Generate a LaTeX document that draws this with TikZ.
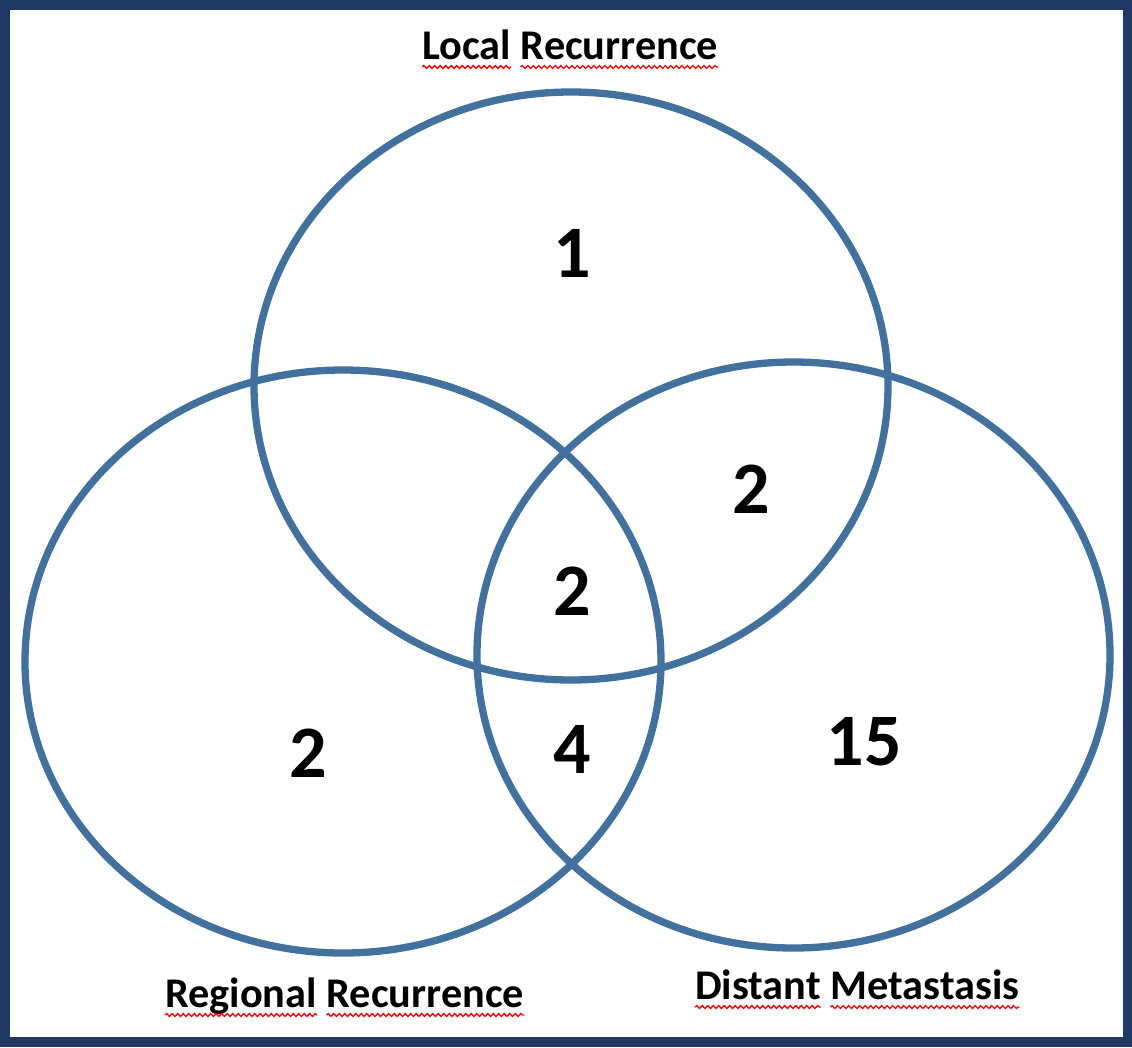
\documentclass[tikz,border=0pt]{standalone}
\usepackage{fontspec}
\setmainfont{Carlito}
\usetikzlibrary{decorations.pathmorphing}
\definecolor{frameblue}{HTML}{1F3864}
\definecolor{vennblue}{HTML}{41719C}
\begin{document}
\begin{tikzpicture}[x=1pt,y=-1pt,
  venn/.style={draw=vennblue,line width=7.3pt},
  lbl/.style={font=\fontsize{42.3}{46}\selectfont\bfseries,inner sep=0pt,anchor=base west},
  num/.style={font=\fontsize{74}{78}\selectfont\bfseries,inner sep=0pt,anchor=base},
  wavy/.style={draw=red,line width=1.3pt,decorate,decoration={snake,segment length=5.5pt,amplitude=1.4pt}}]
\useasboundingbox (0,0) rectangle (1132,1047);
% frame
\fill[frameblue] (0,0) rectangle (1132,1047);
\fill[white] (10,10) rectangle (1123,1037);
% circles
\draw[venn] (571,386) ellipse [x radius=317, y radius=294];
\draw[venn] (343,661.5) ellipse [x radius=318, y radius=291.5];
\draw[venn] (793.5,655) ellipse [x radius=316.5, y radius=293];
% labels
\node[lbl] (lw1) at (422,59) {Local};
\node[lbl] (lw2) at ([xshift=9.5pt]lw1.base east) {Recurrence};
\node[lbl] (rw1) at (165,1007) {Regional};
\node[lbl] (rw2) at ([xshift=9.5pt]rw1.base east) {Recurrence};
\node[lbl] (dw1) at (695,999) {Distant};
\node[lbl] (dw2) at ([xshift=9.5pt]dw1.base east) {Metastasis};
\foreach \w in {lw1,lw2,rw1,rw2,dw1,dw2}{
  \draw[wavy] ([yshift=-8pt]\w.base west) -- ([yshift=-8pt]\w.base east);
}
% numbers
\node[num] (n1) at (572,277) {1};
\node[num] (n2) at (751,513) {2};
\node[num] (n3) at (572,615) {2};
\node[num] (n4) at (572,773) {4};
\node[num] (n5) at (308,777) {2};
\node[num] (n6) at (864,765) {15};
\end{tikzpicture}
\end{document}
